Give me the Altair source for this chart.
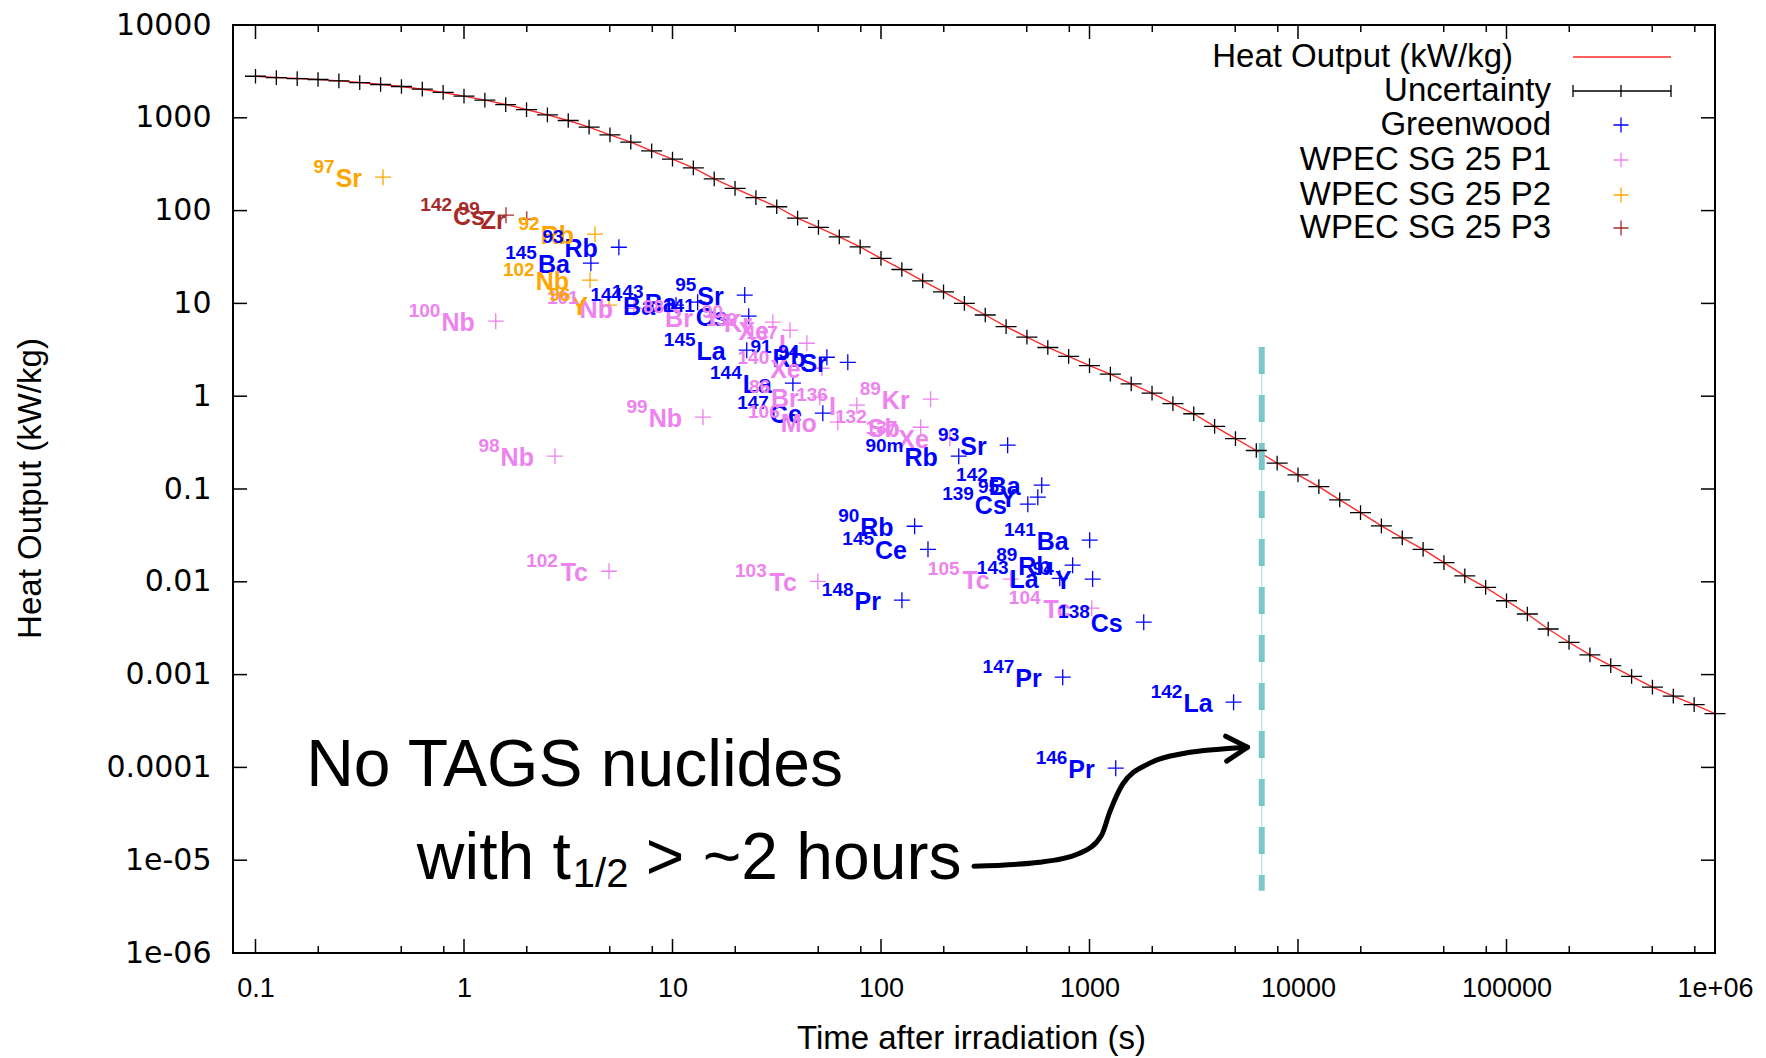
import math
import altair as alt
import pandas as pd

# ---------------- data ----------------
curve_t = [0.1, 0.1259, 0.1585, 0.1995, 0.2512, 0.3162, 0.3981, 0.5012, 0.631, 0.7943,
           1, 1.259, 1.585, 1.995, 2.512, 3.162, 3.981, 5.012, 6.31, 7.943,
           10, 12.59, 15.85, 19.95, 25.12, 31.62, 39.81, 50.12, 63.1, 79.43,
           100, 125.9, 158.5, 199.5, 251.2, 316.2, 398.1, 501.2, 631, 794.3,
           1000, 1259, 1585, 1995, 2512, 3162, 3981, 5012, 6310, 7943,
           10000, 12590, 15850, 19950, 25120, 31620, 39810, 50120, 63100, 79430,
           100000, 125900, 158500, 199500, 251200, 316200, 398100, 501200, 631000, 794300,
           1000000]
curve_heat = [2805, 2716, 2649, 2588, 2500, 2399, 2286, 2173, 2032, 1875,
              1710, 1549, 1390, 1227, 1074, 935, 793, 655, 546, 440,
              358, 288, 220, 174, 138, 110, 82.8, 65.8, 52.1, 40.6,
              30.5, 23.2, 17.5, 13.3, 10.0, 7.50, 5.62, 4.33, 3.35, 2.68,
              2.14, 1.73, 1.36, 1.08, 0.830, 0.647, 0.474, 0.349, 0.260, 0.190,
              0.142, 0.106, 0.0762, 0.0556, 0.0400, 0.0297, 0.0224, 0.0161, 0.0116, 0.00871,
              0.00625, 0.00450, 0.00310, 0.00223, 0.00163, 0.00125, 0.000955, 0.000733, 0.000587, 0.000474,
              0.000379]

nuc_series = (["Greenwood"] * 27 + ["WPEC SG 25 P1"] * 19 +
              ["WPEC SG 25 P2"] * 4 + ["WPEC SG 25 P3"] * 2)
nuc_mass = ["93", "145", "144", "143", "95", "141", "145", "91", "94", "144", "147",
            "93", "90m", "142", "95", "139", "90", "145", "141", "89", "143", "94",
            "148", "138", "147", "142", "146",
            "100", "101", "88", "90", "139", "137", "140", "86", "136", "106", "132",
            "137", "89", "99", "98", "102", "103", "105", "104",
            "97", "92", "102", "96",
            "142", "99"]
nuc_sym = ["Rb", "Ba", "Ba", "Ba", "Sr", "Cs", "La", "Rb", "Sr", "La", "Ce",
           "Sr", "Rb", "Ba", "Y", "Cs", "Rb", "Ce", "Ba", "Rb", "La", "Y",
           "Pr", "Cs", "Pr", "La", "Pr",
           "Nb", "Nb", "Br", "Kr", "Xe", "I", "Xe", "Br", "I", "Mo", "Sb",
           "Xe", "Kr", "Nb", "Nb", "Tc", "Tc", "Tc", "Tc",
           "Sr", "Rb", "Nb", "Y",
           "Cs", "Zr"]
nuc_t = [5.53, 4.06, 10.4, 13.2, 22.2, 23.2, 22.7, 55.0, 69.3, 37.8, 52.6,
         405, 236, 590, 565, 506, 145, 168, 1002, 830, 720, 1035,
         126, 1820, 744, 4910, 1336,
         1.42, 6.53, 15.8, 30.3, 36.6, 44.1, 52.0, 50.9, 76.6, 62.1, 155,
         214, 173, 14.0, 2.73, 4.96, 49.8, 419, 1025,
         0.409, 4.25, 4.02, 4.96,
         1.59, 2.00]
nuc_heat = [40.3, 27.1, 9.57, 10.3, 12.3, 7.28, 3.13, 2.63, 2.32, 1.38, 0.656,
            0.297, 0.226, 0.110, 0.0817, 0.0686, 0.0397, 0.0224, 0.0281, 0.0151, 0.0109, 0.0107,
            0.00634, 0.00367, 0.000937, 0.000505, 0.0000980,
            6.43, 8.87, 7.10, 6.27, 5.14, 3.72, 2.00, 0.975, 0.800, 0.525, 0.463,
            0.352, 0.929, 0.594, 0.226, 0.0130, 0.0101, 0.0107, 0.00520,
            229, 55.7, 17.8, 9.57,
            89.2, 80.8]

series_names = ["Greenwood", "WPEC SG 25 P1", "WPEC SG 25 P2", "WPEC SG 25 P3"]
series_colors = ["#0000ff", "#ee82ee", "#ffa500", "#a52a2a"]
legend_labels = ["Heat Output (kW/kg)", "Uncertainty", "Greenwood",
                 "WPEC SG 25 P1", "WPEC SG 25 P2", "WPEC SG 25 P3"]

tags_t = [6700]
tags_top = [3.4]
tags_bottom = [4.7e-6]

ann_line1 = "No TAGS nuclides"
ann_line2 = ["with t", "1/2", "> ~2 hours"]
ann_t = [0.175, 0.594]
ann_y = [1.03e-4, 1.02e-5]

arrow_t = [279, 577, 898, 1143, 1250, 1443, 1945, 2858, 4207, 5730]
arrow_y = [8.61e-6, 9.51e-6, 1.19e-5, 1.86e-5, 3.29e-5, 6.59e-5, 1.11e-4, 1.42e-4, 1.57e-4, 1.65e-4]
head_t = [4498, 5730, 4550]
head_y = [2.17e-4, 1.65e-4, 1.17e-4]

x_major = [0.1, 1, 10, 100, 1000, 10000, 100000, 1000000]
x_minor = [0.2, 0.5, 0.8, 2, 5, 8, 20, 50, 80, 200, 500, 800, 2000, 5000, 8000,
           20000, 50000, 80000, 200000, 500000, 800000]
y_major = [1e-6, 1e-5, 1e-4, 1e-3, 1e-2, 0.1, 1, 10, 100, 1000, 10000]

# ---------------- layout / style ----------------
W, H = 1482, 928
XMIN, XMAX = 0.078, 1e6
YMIN, YMAX = 1e-6, 1e4
PPD = W / (math.log10(XMAX) - math.log10(XMIN))  # pixels per decade

SYM_SIZE = 25
MASS_SIZE = 19
GAP = 21
BOLD_W = {'A': 722, 'B': 722, 'C': 722, 'I': 278, 'K': 722, 'L': 611, 'M': 833, 'N': 722,
          'P': 667, 'R': 722, 'S': 667, 'T': 611, 'X': 667, 'Y': 667, 'Z': 611,
          'a': 556, 'b': 611, 'c': 556, 'e': 556, 'o': 611, 'r': 389, 's': 556}


def text_w(s, size):
    return sum(BOLD_W.get(ch, 600) for ch in s) / 1000.0 * size


nuc = pd.DataFrame({"series": nuc_series, "mass": nuc_mass, "sym": nuc_sym,
                    "t": nuc_t, "heat": nuc_heat})
nuc["tm"] = [t * 10 ** (-(GAP + text_w(s, SYM_SIZE) + 1) / PPD) for t, s in zip(nuc.t, nuc.sym)]

xs = alt.Scale(type="log", domain=[XMIN, XMAX], nice=False)
ys = alt.Scale(type="log", domain=[YMIN, YMAX], nice=False)
color = alt.Color("series:N", scale=alt.Scale(domain=series_names, range=series_colors), legend=None)

x_axis = alt.Axis(values=x_major, labelExpr="datum.value > 500000 ? '1e+06' : format(datum.value, '~g')",
                  ticks=False, domain=False, grid=False, labelFlush=False, labelOverlap=False,
                  labelFont="Liberation Sans", labelFontSize=27, labelColor="black",
                  labelPadding=22, title="Time after irradiation (s)", titleFont="Liberation Sans",
                  titleFontSize=33, titleFontWeight="normal", titleColor="black",
                  titleX=738, titleY=85, titleAlign="center", titleBaseline="middle")
y_axis = alt.Axis(values=y_major,
                  labelExpr="datum.value < 0.000005 ? '1e-06' : datum.value < 0.00005 ? '1e-05' : format(datum.value, '~g')",
                  ticks=False, domain=False, grid=False, labelFlush=False, labelOverlap=False,
                  labelFont="DejaVu Sans", labelFontSize=30, labelColor="black", labelPadding=22,
                  title="Heat Output (kW/kg)", titleFont="Liberation Sans", titleFontSize=33,
                  titleFontWeight="normal", titleColor="black", titleAngle=270,
                  titleX=-203, titleY=463, titleAlign="center", titleBaseline="middle")


def X(f):
    return alt.X(f, type="quantitative", scale=xs, axis=x_axis)


def Y(f):
    return alt.Y(f, type="quantitative", scale=ys, axis=y_axis)


curve = pd.DataFrame({"t": curve_t, "heat": curve_heat})
layers = []

line = alt.Chart(curve).mark_line(color="#ff2a2a", strokeWidth=1.4).encode(
    x=X("t"), y=Y("heat"))
layers.append(line)

# ticks (inward, mirrored)
xmaj = pd.DataFrame({"t": x_major})
xmin_ = pd.DataFrame({"t": x_minor})
ymaj = pd.DataFrame({"heat": y_major})
for df, L in ((xmaj, 14), (xmin_, 7)):
    layers.append(alt.Chart(df).mark_rule(color="black", strokeWidth=1.5).encode(
        x=X("t"), y=alt.value(H), y2=alt.value(H - L)))
    layers.append(alt.Chart(df).mark_rule(color="black", strokeWidth=1.5).encode(
        x=X("t"), y=alt.value(0), y2=alt.value(L)))
layers.append(alt.Chart(ymaj).mark_rule(color="black", strokeWidth=1.5).encode(
    y=Y("heat"), x=alt.value(0), x2=alt.value(14)))
layers.append(alt.Chart(ymaj).mark_rule(color="black", strokeWidth=1.5).encode(
    y=Y("heat"), x=alt.value(W), x2=alt.value(W - 14)))

# TAGS limit
tags = pd.DataFrame({"t": tags_t, "heat": tags_top, "y2": tags_bottom})
layers.append(alt.Chart(tags).mark_rule(color="#b5e2e6", strokeWidth=1.2).encode(
    x=X("t"), y=Y("heat"), y2="y2"))
layers.append(alt.Chart(tags).mark_rule(color="#7cc8c9", strokeWidth=6, strokeDash=[27, 21]).encode(
    x=X("t"), y=Y("heat"), y2="y2"))

# curve markers
layers.append(alt.Chart(curve).mark_point(shape="M-1,0L1,0M0,-0.7L0,0.7", size=441, filled=False,
                                          color="black", strokeWidth=1.3, opacity=1).encode(
    x=X("t"), y=Y("heat")))

# nuclide points and labels
layers.append(alt.Chart(nuc).mark_point(shape="M-1,0L1,0M0,-1L0,1", size=256, filled=False,
                                        strokeWidth=1.3, opacity=1).encode(
    x=X("t"), y=Y("heat"), color=color))
layers.append(alt.Chart(nuc).mark_text(align="right", baseline="alphabetic", dx=-GAP, dy=10,
                                       font="Liberation Sans", fontWeight="bold", fontSize=SYM_SIZE).encode(
    x=X("t"), y=Y("heat"), text="sym:N", color=color))
layers.append(alt.Chart(nuc).mark_text(align="right", baseline="alphabetic", dy=-4,
                                       font="Liberation Sans", fontWeight="bold", fontSize=MASS_SIZE).encode(
    x=X("tm"), y=Y("heat"), text="mass:N", color=color))

# annotation
a1 = pd.DataFrame({"t": [ann_t[0]], "heat": [ann_y[0]], "txt": [ann_line1]})
layers.append(alt.Chart(a1).mark_text(align="left", baseline="middle", font="Liberation Sans",
                                      fontSize=66, color="black").encode(x=X("t"), y=Y("heat"), text="txt:N"))
a2 = pd.DataFrame({"t": [ann_t[1]], "heat": [ann_y[1]], "a": [ann_line2[0]], "b": [ann_line2[1]], "c": [ann_line2[2]]})
layers.append(alt.Chart(a2).mark_text(align="left", baseline="middle", font="Liberation Sans",
                                      fontSize=66, color="black").encode(x=X("t"), y=Y("heat"), text="a:N"))
layers.append(alt.Chart(a2).mark_text(align="left", baseline="middle", font="Liberation Sans",
                                      fontSize=40, color="black", dx=156, dy=16).encode(x=X("t"), y=Y("heat"), text="b:N"))
layers.append(alt.Chart(a2).mark_text(align="left", baseline="middle", font="Liberation Sans",
                                      fontSize=66, color="black", dx=229).encode(x=X("t"), y=Y("heat"), text="c:N"))

arrow = pd.DataFrame({"t": arrow_t, "heat": arrow_y, "o": list(range(len(arrow_t)))})
layers.append(alt.Chart(arrow).mark_line(color="black", strokeWidth=5, interpolate="monotone",
                                         strokeCap="round").encode(x=X("t"), y=Y("heat"), order="o:Q"))
head = pd.DataFrame({"t": head_t, "heat": head_y, "o": [0, 1, 2]})
layers.append(alt.Chart(head).mark_line(color="black", strokeWidth=5, strokeCap="round",
                                        strokeJoin="round").encode(x=X("t"), y=Y("heat"), order="o:Q"))

# legend (manual, inside plot)
leg_text_x = [1280, 1318, 1318, 1318, 1318, 1318]
leg_y = [32, 66, 100, 135, 170, 203]
LX1, LX2, LXC = 1340, 1438, 1388
one = pd.DataFrame({"d": [0]})
for i, lab in enumerate(legend_labels):
    layers.append(alt.Chart(pd.DataFrame({"label": [lab]})).mark_text(
        align="right", baseline="middle", font="Liberation Sans", fontSize=33, color="black").encode(
        x=alt.value(leg_text_x[i]), y=alt.value(leg_y[i]), text="label:N"))
layers.append(alt.Chart(one).mark_rule(color="#ff2a2a", strokeWidth=1.4).encode(
    x=alt.value(LX1), x2=alt.value(LX2), y=alt.value(leg_y[0])))
layers.append(alt.Chart(one).mark_rule(color="black", strokeWidth=1.3).encode(
    x=alt.value(LX1), x2=alt.value(LX2), y=alt.value(leg_y[1])))
for xx in (LX1, LXC, LX2):
    layers.append(alt.Chart(one).mark_rule(color="black", strokeWidth=1.3).encode(
        x=alt.value(xx), y=alt.value(leg_y[1] - 6), y2=alt.value(leg_y[1] + 6)))
for i, c in enumerate(series_colors):
    layers.append(alt.Chart(one).mark_point(shape="M-1,0L1,0M0,-1L0,1", size=225, filled=False,
                                            strokeWidth=1.3, opacity=1, color=c).encode(
        x=alt.value(LXC), y=alt.value(leg_y[2 + i])))

chart = alt.layer(*layers).properties(
    width=W, height=H,
    padding={"left": 233, "top": 25, "right": 51, "bottom": 105},
    autosize=alt.AutoSizeParams(type="none"),
    background="white",
).configure_view(stroke="black", strokeWidth=2)

chart.save("out.html", embed_options={"renderer": "svg", "actions": False})
